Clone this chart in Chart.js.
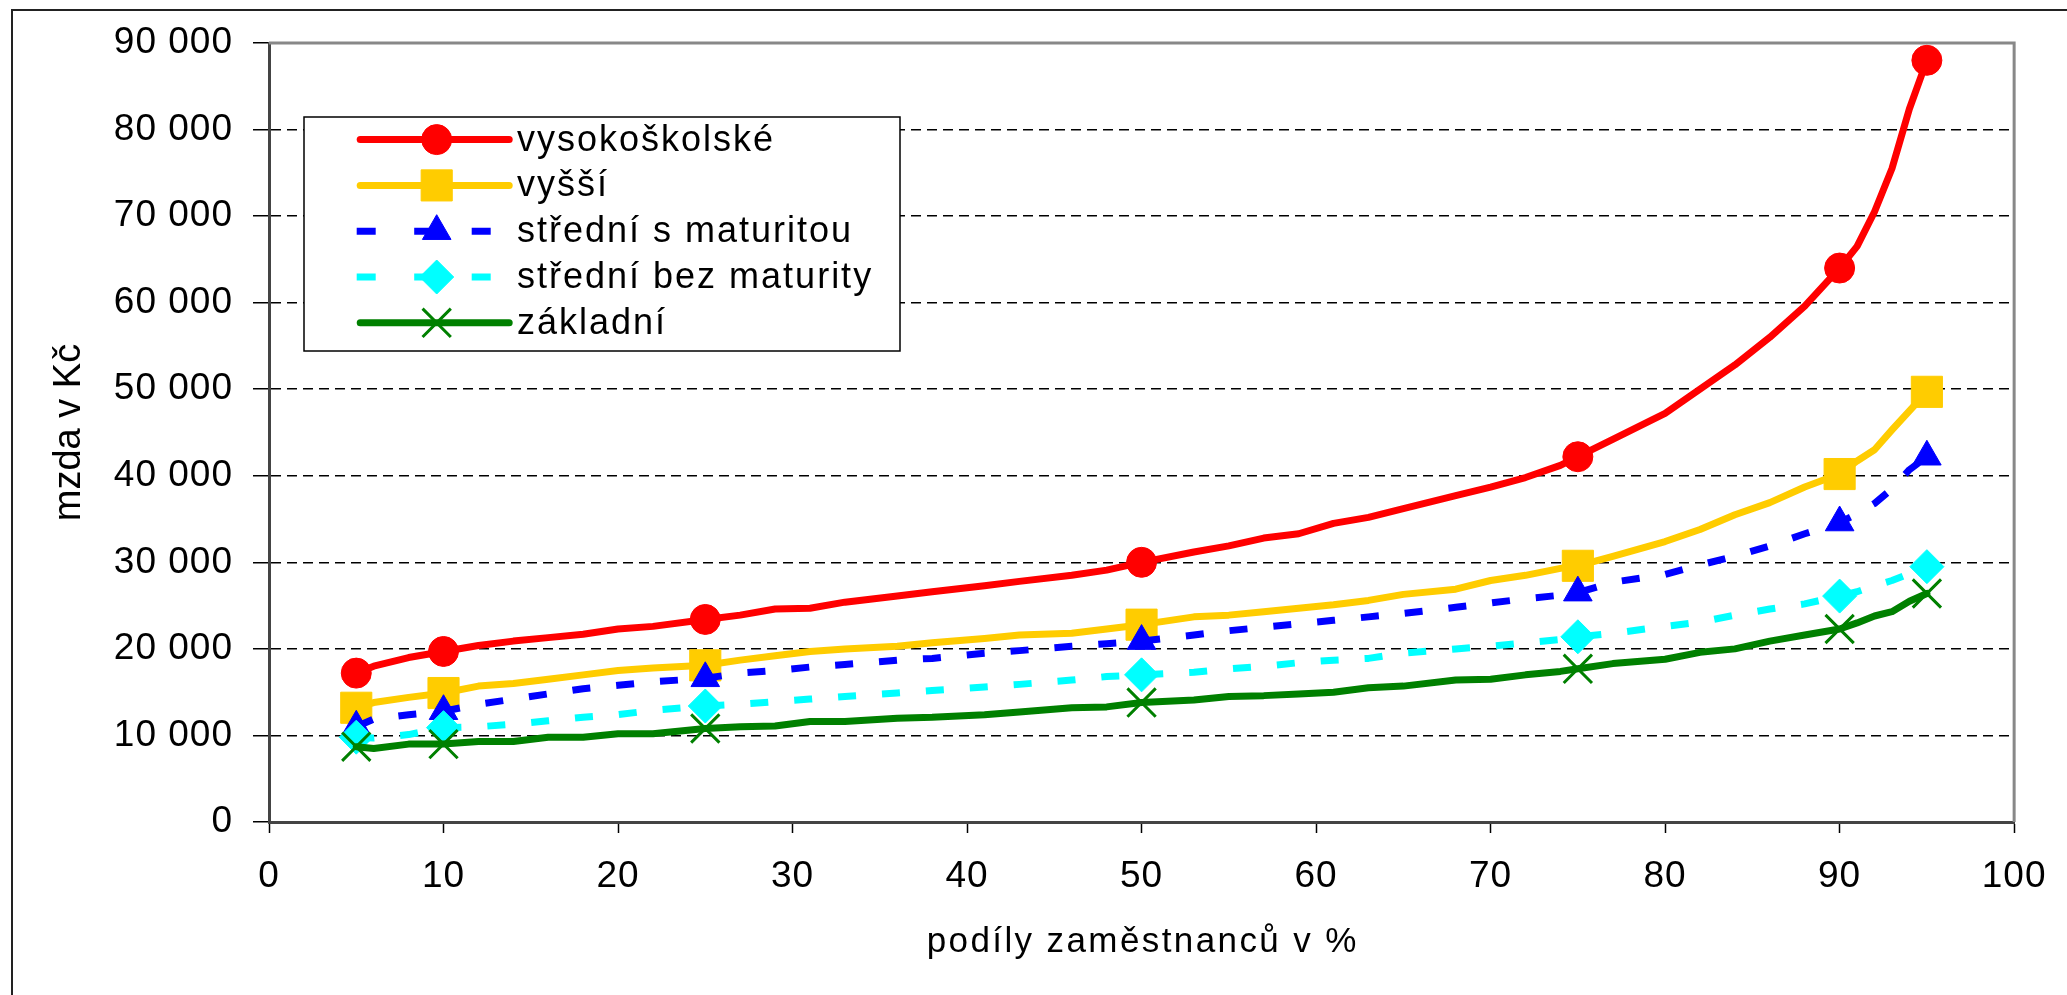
<!DOCTYPE html>
<html lang="cs">
<head>
<meta charset="UTF-8">
<title>Mzdy podle vzdělání</title>
<script src="https://cdn.jsdelivr.net/npm/chart.js@4.4.1/dist/chart.umd.min.js"></script>
<style>
    html, body { margin: 0; padding: 0; background: #fff; }
    #wrap { width: 2067px; height: 995px; }
</style>
</head>
<body>
<div id="wrap"><canvas id="mzdyChart" width="2067" height="995"></canvas></div>
<script>
//#region === Data ===

// podíly zaměstnanců (percentily) na ose x
const percentily = [5, 6, 8, 10, 12, 14, 16, 18, 20, 22, 25, 27, 29, 31, 33, 36, 38, 41, 43, 46, 48, 50,
    53, 55, 57, 59, 61, 63, 65, 68, 70, 72, 74, 75, 77, 80, 82, 84, 86, 88, 90, 91, 92, 93, 94, 95];

// percentily, kde jsou značky
const percentilyZnacek = [5, 10, 25, 50, 75, 90, 95];

const vysokoskolske = [17200, 18000, 19000, 19700, 20400, 20900, 21300, 21700, 22300, 22600, 23400, 23900, 24600, 24700, 25400, 26100, 26600, 27300, 27800, 28500, 29100, 30000,
    31200, 31900, 32800, 33300, 34500, 35200, 36200, 37700, 38700, 39800, 41200, 42200, 44200, 47200, 50000, 52800, 56000, 59600, 64000, 66500, 70500, 75500, 82400, 88000];
const vyssi = [13200, 13800, 14400, 14900, 15700, 16000, 16500, 17000, 17500, 17800, 18100, 18700, 19200, 19700, 20000, 20300, 20700, 21200, 21600, 21800, 22300, 22800,
    23700, 23900, 24300, 24700, 25100, 25600, 26300, 26900, 27900, 28500, 29300, 29600, 30700, 32400, 33800, 35500, 36900, 38700, 40200, 41700, 43000, 45300, 47500, 49700];
const stredniSMaturitou = [11000, 11900, 12400, 12800, 13600, 14200, 14800, 15400, 15800, 16200, 16600, 17200, 17500, 17900, 18200, 18700, 18900, 19500, 19800, 20300, 20600, 20900,
    21600, 22100, 22500, 22900, 23300, 23700, 24100, 24800, 25300, 25800, 26200, 26500, 27700, 28600, 29700, 30700, 31900, 33300, 34600, 35600, 36800, 38500, 40700, 42200];
const stredniBezMaturity = [9800, 9700, 10100, 10900, 11000, 11300, 11700, 12100, 12400, 12900, 13400, 13600, 13900, 14200, 14500, 14900, 15200, 15600, 15900, 16400, 16800, 17000,
    17300, 17700, 18000, 18400, 18700, 18900, 19500, 20000, 20300, 20700, 21100, 21400, 21800, 22600, 23100, 23900, 24600, 25200, 26100, 26600, 27300, 27900, 28700, 29500];
const zakladni = [8700, 8500, 9000, 9000, 9300, 9300, 9800, 9800, 10200, 10200, 10800, 11000, 11100, 11600, 11600, 12000, 12100, 12400, 12700, 13200, 13300, 13800,
    14100, 14500, 14600, 14800, 15000, 15500, 15700, 16400, 16500, 17000, 17400, 17700, 18300, 18800, 19600, 20000, 20900, 21600, 22300, 23000, 23800, 24300, 25500, 26400];

const nazvySerii = ['vysokoškolské', 'vyšší', 'střední s maturitou', 'střední bez maturity', 'základní'];
const titulekX = 'podíly zaměstnanců v %';
const titulekY = 'mzda v Kč';

//#endregion

//#region === Pomocné funkce ===

const FONT = '"Liberation Sans", Arial, sans-serif';
Chart.defaults.font.family = FONT;
Chart.defaults.color = '#000';

/**
 * Formát čísla s mezerou jako oddělovačem tisíců (90 000)
 */
function formatKc(value) {
    return String(value).replace(/\B(?=(\d{3})+(?!\d))/g, ' ');
}

/**
 * Vytvoří dataset pro jednu skupinu vzdělání
 */
function makeDataset(label, values, color, pointStyle, radius, dashed, order) {
    return {
        label,
        data: percentily.map((p, i) => ({ x: p, y: values[i] })),
        borderColor: color,
        backgroundColor: color,
        borderWidth: 7,
        borderDash: dashed ? [18, 26] : [],
        borderCapStyle: dashed ? 'butt' : 'round',
        borderJoinStyle: 'round',
        legendDash: dashed ? [19, 38.5] : [],
        pointStyle,
        pointRadius: ctx => percentilyZnacek.includes(percentily[ctx.dataIndex]) ? radius : 0,
        pointHoverRadius: 0,
        pointBackgroundColor: color,
        pointBorderColor: color,
        pointBorderWidth: pointStyle === 'crossRot' ? 3 : 1,
        legendRadius: radius,
        tension: 0,
        order
    };
}

//#endregion

//#region === Pluginy ===

// bílé pozadí a rámeček celého grafu (vlevo a nahoře)
const pozadi = {
    id: 'pozadi',
    beforeDraw(chart) {
        const { ctx, width, height } = chart;
        ctx.fillStyle = '#fff';
        ctx.fillRect(0, 0, width, height);
        ctx.strokeStyle = '#222';
        ctx.lineWidth = 2;
        ctx.beginPath();
        ctx.moveTo(12, height);
        ctx.lineTo(12, 10);
        ctx.lineTo(width, 10);
        ctx.stroke();
        // popisky os mají v originále trochu širší proklad
        ctx.letterSpacing = '1px';
    },
    beforeDatasetsDraw(chart) {
        // šedý rámeček oblasti grafu nahoře a vpravo
        const { ctx, chartArea: a } = chart;
        ctx.save();
        ctx.strokeStyle = '#888';
        ctx.lineWidth = 3;
        ctx.beginPath();
        ctx.moveTo(a.left, a.top);
        ctx.lineTo(a.right, a.top);
        ctx.lineTo(a.right, a.bottom);
        ctx.stroke();
        ctx.restore();
    }
};

// názvy os
const popisyOs = {
    id: 'popisyOs',
    afterDraw(chart) {
        const { ctx, chartArea: a } = chart;
        ctx.save();
        ctx.fillStyle = '#000';
        ctx.textAlign = 'center';
        ctx.textBaseline = 'alphabetic';
        ctx.font = '35px ' + FONT;
        ctx.letterSpacing = '2.4px';
        ctx.fillText(titulekX, (a.left + a.right) / 2 + 1.2, a.bottom + 130);

        ctx.translate(a.left - 189, (a.top + a.bottom) / 2);
        ctx.rotate(-Math.PI / 2);
        ctx.font = '38px ' + FONT;
        ctx.letterSpacing = '0px';
        ctx.fillText(titulekY, 0, 0);
        ctx.restore();
    }
};

// legenda v rámečku vlevo nahoře
const legendaBox = {
    id: 'legendaBox',
    afterDraw(chart) {
        const { ctx, chartArea } = chart;
        const left = chartArea.left + 35;
        const top = chartArea.top + 74;
        const w = 596, h = 234;
        ctx.save();
        ctx.fillStyle = '#fff';
        ctx.fillRect(left, top, w, h);
        ctx.strokeStyle = '#000';
        ctx.lineWidth = 1.5;
        ctx.strokeRect(left, top, w, h);

        chart.data.datasets.forEach((ds, i) => {
            const y = top + 22.6 + i * 45.8;
            const dashed = ds.legendDash.length > 0;
            ctx.strokeStyle = ds.borderColor;
            ctx.fillStyle = ds.borderColor;
            ctx.lineWidth = ds.borderWidth;
            ctx.lineCap = ds.borderCapStyle;
            ctx.setLineDash(ds.legendDash);
            ctx.beginPath();
            ctx.moveTo(left + (dashed ? 52.7 : 56.2), y);
            ctx.lineTo(left + (dashed ? 208.7 : 205.2), y);
            ctx.stroke();
            ctx.setLineDash([]);
            ctx.lineCap = 'butt';
            ctx.lineWidth = ds.pointBorderWidth;
            Chart.helpers.drawPoint(ctx, {
                pointStyle: ds.pointStyle,
                radius: ds.legendRadius,
                borderWidth: ds.pointBorderWidth,
                rotation: 0
            }, left + 132.7, y);

            ctx.fillStyle = '#000';
            ctx.font = '36px ' + FONT;
            ctx.letterSpacing = '2px';
            ctx.textBaseline = 'middle';
            ctx.textAlign = 'left';
            ctx.fillText(ds.label, left + 213, y + 1);
        });
        ctx.restore();
    }
};

//#endregion

//#region === Graf ===

function renderMzdyChart() {
    const ctx = document.getElementById('mzdyChart').getContext('2d');

    const datasets = [
        makeDataset(nazvySerii[0], vysokoskolske, '#FF0000', 'circle', 15, false, 4),
        makeDataset(nazvySerii[1], vyssi, '#FFCC00', 'rect', 22, false, 3),
        makeDataset(nazvySerii[2], stredniSMaturitou, '#0000FF', 'triangle', 16.5, true, 2),
        makeDataset(nazvySerii[3], stredniBezMaturity, '#00FFFF', 'rectRot', 17, true, 1),
        makeDataset(nazvySerii[4], zakladni, '#008000', 'crossRot', 20, false, 0)
    ];

    new Chart(ctx, {
        type: 'line',
        data: { datasets },
        options: {
            responsive: false,
            devicePixelRatio: 1,
            animation: false,
            events: [],
            layout: { padding: { top: 43, right: 50, left: 0, bottom: 0 } },
            scales: {
                x: {
                    type: 'linear',
                    min: 0,
                    max: 100,
                    ticks: { stepSize: 10, padding: 22, font: { size: 37 }, color: '#000' },
                    grid: { drawOnChartArea: false, tickLength: 11, tickColor: '#000', tickWidth: 1.5 },
                    border: { color: '#444', width: 3 },
                    title: { display: false },
                    afterFit: scale => { scale.height = 173; }
                },
                y: {
                    min: 0,
                    max: 90000,
                    ticks: { stepSize: 10000, padding: 20, font: { size: 37 }, color: '#000', callback: v => formatKc(v) },
                    grid: {
                        color: c => (c.tick && (c.tick.value === 0 || c.tick.value === 90000)) ? 'rgba(0,0,0,0)' : '#000',
                        lineWidth: 1.5,
                        tickLength: 16,
                        tickColor: '#000',
                        tickWidth: 1.5
                    },
                    border: { color: '#444', width: 3, dash: [10, 6] },
                    title: { display: false },
                    afterFit: scale => { scale.width = 269; }
                }
            },
            plugins: {
                legend: { display: false },
                tooltip: { enabled: false }
            }
        },
        plugins: [pozadi, popisyOs, legendaBox]
    });
}

document.addEventListener('DOMContentLoaded', renderMzdyChart);

//#endregion
</script>
</body>
</html>
